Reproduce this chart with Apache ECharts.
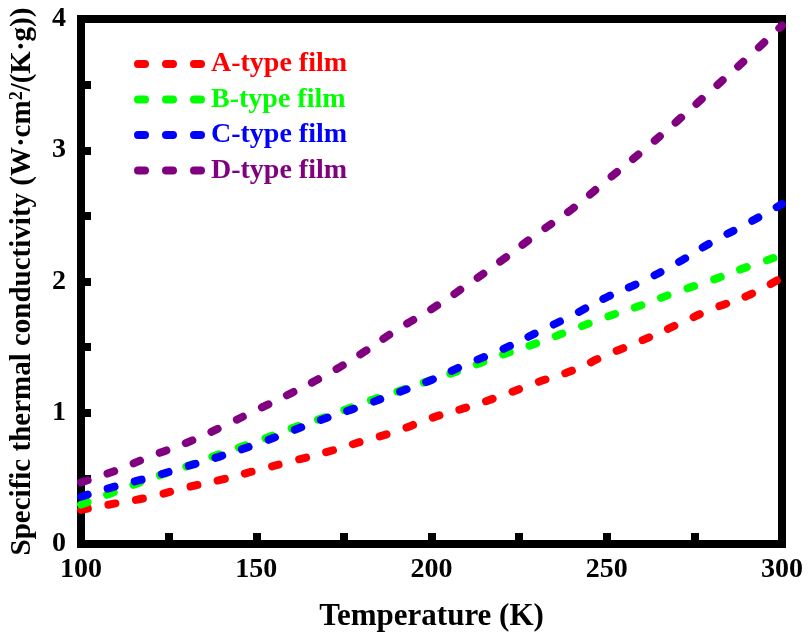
<!DOCTYPE html>
<html>
<head>
<meta charset="utf-8">
<script src="https://cdn.jsdelivr.net/npm/echarts@6/dist/echarts.min.js"></script>
<style>
html,body{margin:0;padding:0;background:#fff;}
#chart{width:808px;height:641px;}
</style>
</head>
<body>
<div id="chart"></div>
<script>
const temperatures = [100,110,120,130,140,150,160,170,180,190,200,210,220,230,240,250,260,270,280,290,300];
const seriesA = [0.26,0.31,0.36,0.43,0.49,0.56,0.63,0.70,0.78,0.86,0.96,1.04,1.13,1.23,1.32,1.44,1.55,1.67,1.79,1.89,2.03];
const seriesB = [0.30,0.40,0.50,0.59,0.69,0.78,0.88,0.97,1.07,1.16,1.25,1.34,1.44,1.53,1.63,1.73,1.82,1.92,2.01,2.11,2.20];
const seriesC = [0.36,0.44,0.51,0.59,0.67,0.76,0.86,0.96,1.05,1.15,1.25,1.37,1.48,1.61,1.74,1.88,2.00,2.14,2.30,2.44,2.59];
const seriesD = [0.47,0.56,0.67,0.77,0.89,1.02,1.15,1.29,1.45,1.63,1.79,1.97,2.16,2.36,2.55,2.77,2.99,3.22,3.46,3.70,3.95];
const seriesNames = ['A-type film','B-type film','C-type film','D-type film'];
const seriesColors = ['#ff0000','#00ff00','#0000ff','#800080'];
const xLabelTicks = [100,150,200,250,300];
const yLabelTicks = [0,1,2,3,4];

const FONT = '"Liberation Serif","Times New Roman",serif';
const allValues = [seriesA, seriesB, seriesC, seriesD];

const chart = echarts.init(document.getElementById('chart'), null, {renderer:'canvas'});
const axisLineStyle = {color:'#000', width:8, cap:'square'};

const option = {
  animation:false,
  backgroundColor:'#fff',
  grid:{left:77.5, right:26, top:19, bottom:97, containLabel:false},
  legend:{
    orient:'vertical', left:129, top:45,
    itemWidth:68, itemHeight:8, itemGap:7.5,
    lineStyle:{width:8, type:[7,21], cap:'round'},
    textStyle:{fontFamily:FONT, fontWeight:'bold', fontSize:28, lineHeight:28},
    data: seriesNames.map((n,i)=>({name:n, textStyle:{color:seriesColors[i]}}))
  },
  xAxis:[{
    type:'value', min:100, max:300, interval:25,
    name:'Temperature (K)', nameLocation:'middle', nameGap:57,
    nameTextStyle:{fontFamily:FONT, fontWeight:'bold', fontSize:31, color:'#000'},
    axisLine:{show:true, onZero:false, lineStyle:axisLineStyle},
    axisTick:{show:true, inside:true, length:11, lineStyle:{color:'#000', width:8}},
    axisLabel:{margin:12, fontFamily:FONT, fontWeight:'bold', fontSize:28, color:'#000',
      formatter:v=> xLabelTicks.indexOf(v)>=0 ? String(v) : ''},
    splitLine:{show:false}
  },{
    type:'value', min:100, max:300, position:'top',
    axisLine:{show:true, onZero:false, lineStyle:axisLineStyle},
    axisTick:{show:false}, axisLabel:{show:false}, splitLine:{show:false}
  }],
  yAxis:[{
    type:'value', min:0, max:4, interval:0.5,
    name:'{a|Specific thermal conductivity (W·cm}{s|2}{a|/(K·g))}',
    nameLocation:'middle', nameGap:43, nameRotate:90,
    nameTextStyle:{color:'#000', rich:{
      a:{fontFamily:FONT, fontWeight:'bold', fontSize:29, color:'#000', lineHeight:30},
      s:{fontFamily:FONT, fontWeight:'bold', fontSize:18, color:'#000', lineHeight:18, verticalAlign:'top'}
    }},
    axisLine:{show:true, onZero:false, lineStyle:axisLineStyle},
    axisTick:{show:true, inside:true, length:10, lineStyle:{color:'#000', width:8}},
    axisLabel:{margin:15, fontFamily:FONT, fontWeight:'bold', fontSize:28, color:'#000',
      formatter:v=> yLabelTicks.indexOf(v)>=0 ? String(v) : ''},
    splitLine:{show:false}
  },{
    type:'value', min:0, max:4, position:'right',
    axisLine:{show:true, onZero:false, lineStyle:axisLineStyle},
    axisTick:{show:false}, axisLabel:{show:false}, splitLine:{show:false}
  }],
  series: seriesNames.map((n,i)=>({
    name:n, type:'line', smooth:true, symbol:'none',
    xAxisIndex:0, yAxisIndex:0,
    color:seriesColors[i],
    lineStyle:{color:seriesColors[i], width:8, type:[7,21], cap:'round'},
    data: temperatures.map((t,k)=>[t, allValues[i][k]]),
    z:3
  }))
};
chart.setOption(option);
</script>
</body>
</html>
